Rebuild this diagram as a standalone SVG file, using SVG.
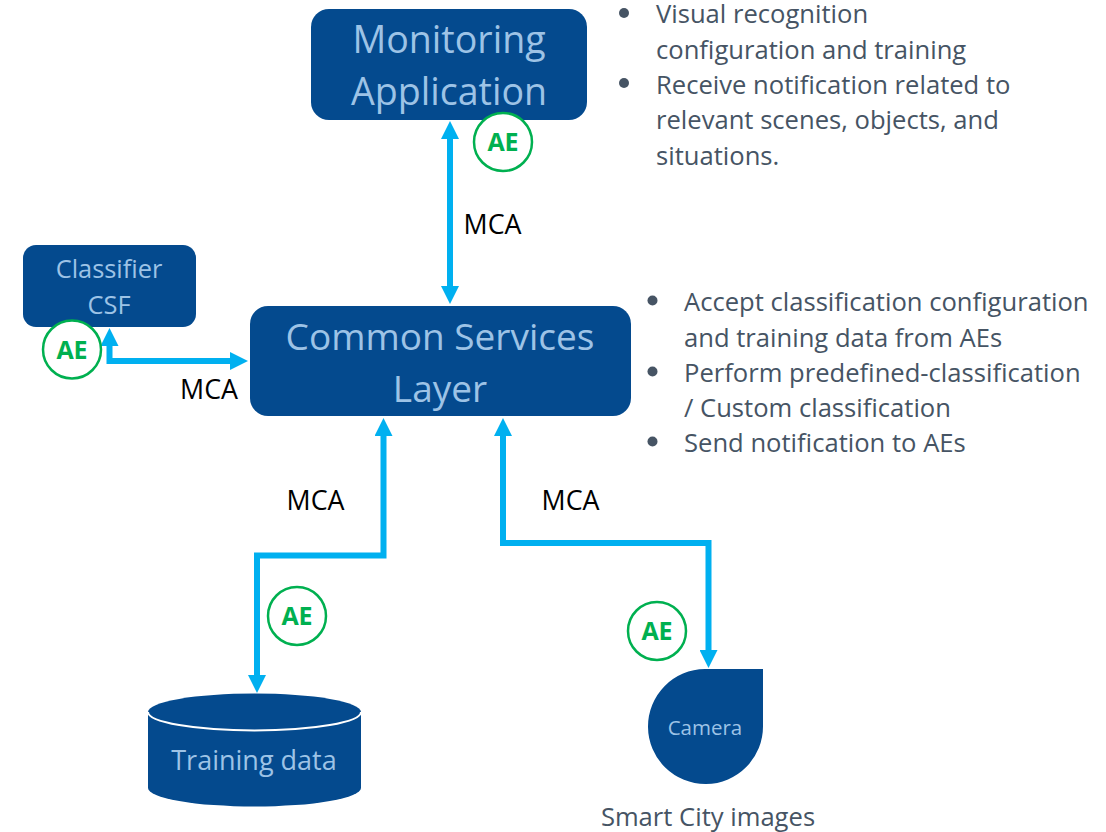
<svg xmlns="http://www.w3.org/2000/svg" width="1106" height="832" viewBox="0 0 1106 832">
<defs>
<marker id="a" markerUnits="userSpaceOnUse" markerWidth="18" markerHeight="18" refX="1" refY="9" orient="auto-start-reverse"><path d="M0 0L18 9L0 18Z" fill="#00B0F0"/></marker>
</defs>
<style>
text{font-family:"Open Sans","Noto Sans",sans-serif}
.n{fill:#044A8E}
.l{fill:#9DC3E6;text-anchor:middle}
.c{fill:none;stroke:#00B0F0;stroke-width:6;marker-start:url(#a);marker-end:url(#a)}
.b{fill:#465464;font-size:25.6px}
.d{fill:#465464}
.m{fill:#000;font-size:26.800px;text-anchor:middle}
.ae{fill:#fff;stroke:#00B050;stroke-width:2.500}
.at{fill:#00B050;font-size:25px;font-weight:700;text-anchor:middle}
</style>
<g id="connectors">
<path class="c" d="M450 138V287"/>
<path class="c" d="M109.500 345V361H231"/>
<path class="c" d="M383.500 435V555.500H257V676"/>
<path class="c" d="M503 435V543H708.500V651"/>
</g>
<g id="monitoring"><rect class="n" x="311" y="9" width="276" height="111" rx="18"/><text class="l" font-size="37.600" x="449" y="53">Monitoring</text><text class="l" font-size="37.600" x="449" y="105">Application</text></g>
<g id="classifier"><rect class="n" x="23" y="245" width="173" height="82" rx="13"/><text class="l" font-size="25.400" x="109" y="278">Classifier</text><text class="l" font-size="25.400" x="109" y="314">CSF</text></g>
<g id="csl"><rect class="n" x="250" y="306" width="381" height="110" rx="18"/><text class="l" font-size="37" x="440" y="350">Common Services</text><text class="l" font-size="37" x="440" y="402">Layer</text></g>
<g id="training"><path class="n" d="M148 712V788A106.500 18.500 0 0 0 361 788V712A106.500 18.500 0 0 0 148 712Z"/><path d="M148 712A106.500 18.500 0 0 0 361 712" fill="none" stroke="#fff" stroke-width="2"/><text class="l" font-size="27" x="254" y="770">Training data</text></g>
<g id="camera"><path class="n" d="M705 669H763V726A57.500 57.500 0 1 1 705 669Z"/><text class="l" font-size="20.500" x="705" y="735">Camera</text></g>
<g id="ae1"><circle class="ae" cx="503" cy="142" r="29"/><text class="at" x="503" y="151">AE</text></g>
<g id="ae2"><circle class="ae" cx="72" cy="349.500" r="29"/><text class="at" x="72" y="359">AE</text></g>
<g id="ae3"><circle class="ae" cx="297" cy="616" r="29"/><text class="at" x="297" y="625">AE</text></g>
<g id="ae4"><circle class="ae" cx="657" cy="631" r="29"/><text class="at" x="657" y="640">AE</text></g>
<g id="labels">
<text class="m" x="492.500" y="234">MCA</text><text class="m" x="209" y="399">MCA</text><text class="m" x="315.500" y="510">MCA</text><text class="m" x="570.500" y="510">MCA</text>
<text x="708" y="826" text-anchor="middle" font-size="25.600" fill="#465464">Smart City images</text>
<circle class="d" cx="624" cy="13" r="5"/><circle class="d" cx="624" cy="83" r="5"/>
<text class="b" x="656" y="23">Visual recognition</text><text class="b" x="656" y="59">configuration and training</text><text class="b" x="656" y="94">Receive notification related to</text><text class="b" x="656" y="129">relevant scenes, objects, and</text><text class="b" x="656" y="165">situations.</text>
<circle class="d" cx="652.500" cy="300.500" r="5"/><circle class="d" cx="652.500" cy="371.500" r="5"/><circle class="d" cx="652.500" cy="441.500" r="5"/>
<text class="b" x="684" y="311">Accept classification configuration</text><text class="b" x="684" y="347">and training data from AEs</text><text class="b" x="684" y="382">Perform predefined-classification</text><text class="b" x="684" y="417">/ Custom classification</text><text class="b" x="684" y="452">Send notification to AEs</text>
</g>
</svg>
